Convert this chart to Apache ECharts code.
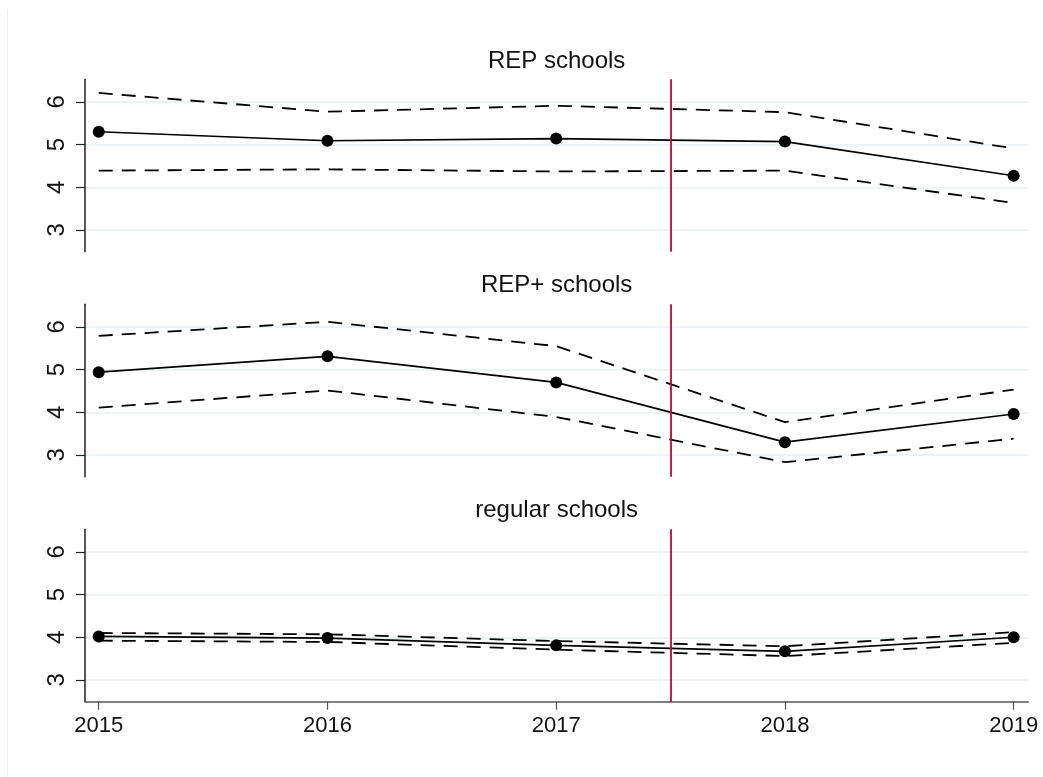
<!DOCTYPE html>
<html>
<head>
<meta charset="utf-8">
<script src="https://cdn.jsdelivr.net/npm/echarts@6/dist/echarts.min.js"></script>
<style>
  html, body { margin: 0; padding: 0; background: #ffffff; }
  #chart { width: 1043px; height: 777px; }
</style>
</head>
<body>
<div id="chart"></div>
<script>
// Years on the horizontal axis
const years = [2015, 2016, 2017, 2018, 2019];
const yTicks = [3, 4, 5, 6];
const panelTitles = ['REP schools', 'REP+ schools', 'regular schools'];

// Point estimates with upper / lower confidence bounds, one set per school type
const repMean  = [5.30, 5.09, 5.14, 5.07, 4.27];
const repUpper = [6.21, 5.77, 5.91, 5.76, 4.91];
const repLower = [4.39, 4.42, 4.37, 4.39, 3.63];

const repPlusMean  = [4.94, 5.31, 4.70, 3.30, 3.96];
const repPlusUpper = [5.79, 6.12, 5.55, 3.77, 4.53];
const repPlusLower = [4.11, 4.51, 3.89, 2.83, 3.38];

const regMean  = [4.02, 3.98, 3.81, 3.67, 4.00];
const regUpper = [4.10, 4.07, 3.91, 3.79, 4.12];
const regLower = [3.92, 3.89, 3.71, 3.56, 3.87];

// Reform year marker
const reformX = 2017.5;

const panels = [
  { mean: repMean, upper: repUpper, lower: repLower },
  { mean: repPlusMean, upper: repPlusUpper, lower: repPlusLower },
  { mean: regMean, upper: regUpper, lower: regLower }
];

const FONT = 'Liberation Sans, Arial, sans-serif';
const gridTops = [79.3, 304.3, 529.3];
const gridH = 172.4;
const gridLeft = 85;
const gridRight = 14.7;
const titleY = [61, 285.5, 510.5];
const plotCenterX = gridLeft + (1043 - gridLeft - gridRight) / 2;

const pairs = arr => years.map((y, i) => [y, arr[i]]);

const grids = [], xAxes = [], yAxes = [], series = [], graphics = [];

panels.forEach((p, k) => {
  grids.push({ left: gridLeft, right: gridRight, top: gridTops[k], height: gridH, containLabel: false });
  const isBottom = k === panels.length - 1;
  xAxes.push({
    type: 'value', gridIndex: k, min: 2014.94, max: 2019.064,
    show: isBottom,
    axisLine: { show: true, onZero: false, lineStyle: { color: '#555555', width: 1.5 } },
    axisTick: { show: true, length: 8, customValues: years, lineStyle: { color: '#555555', width: 1.2 } },
    axisLabel: { show: true, customValues: years, margin: 13, fontSize: 22, color: '#111111', fontFamily: FONT,
                 formatter: v => String(v) },
    splitLine: { show: false }
  });
  yAxes.push({
    type: 'value', gridIndex: k, min: 2.49, max: 6.53,
    axisLine: { show: true, lineStyle: { color: '#222222', width: 1.5 } },
    axisTick: { show: true, length: 9, inside: false, customValues: yTicks, lineStyle: { color: '#222222', width: 1.2 } },
    axisLabel: { show: true, customValues: yTicks, rotate: 90, margin: 16, fontSize: 24, color: '#111111', fontFamily: FONT },
    splitLine: { show: true, lineStyle: { color: '#e9f1f3', width: 1.6 } }
  });
  const dashed = { color: '#000000', width: 1.8, type: [14, 9] };
  series.push({
    type: 'line', xAxisIndex: k, yAxisIndex: k, data: pairs(p.upper),
    showSymbol: false, symbol: 'none', lineStyle: dashed, silent: true, z: 3
  });
  series.push({
    type: 'line', xAxisIndex: k, yAxisIndex: k, data: pairs(p.lower),
    showSymbol: false, symbol: 'none', lineStyle: dashed, silent: true, z: 3
  });
  series.push({
    type: 'line', xAxisIndex: k, yAxisIndex: k, data: pairs(p.mean),
    symbol: 'circle', symbolSize: 12, showSymbol: true,
    itemStyle: { color: '#000000' },
    lineStyle: { color: '#000000', width: 1.6 }, silent: true, z: 4,
    markLine: {
      silent: true, symbol: ['none', 'none'], label: { show: false },
      lineStyle: { color: '#c0063a', width: 1.8, type: 'solid' },
      data: [{ xAxis: reformX }],
      animation: false
    }
  });
  graphics.push({
    type: 'text', x: plotCenterX, y: titleY[k],
    style: { text: panelTitles[k], font: '24px ' + FONT, fill: '#111111', textAlign: 'center', textVerticalAlign: 'middle' }
  });
});

// faint frame edge on the left
graphics.push({
  type: 'line', shape: { x1: 7.5, y1: 10, x2: 7.5, y2: 777 },
  style: { stroke: '#ececec', lineWidth: 1 }, silent: true
});

const chart = echarts.init(document.getElementById('chart'), null, { renderer: 'canvas' });
chart.setOption({
  animation: false,
  backgroundColor: '#ffffff',
  grid: grids,
  xAxis: xAxes,
  yAxis: yAxes,
  series: series,
  graphic: graphics
});
</script>
</body>
</html>
